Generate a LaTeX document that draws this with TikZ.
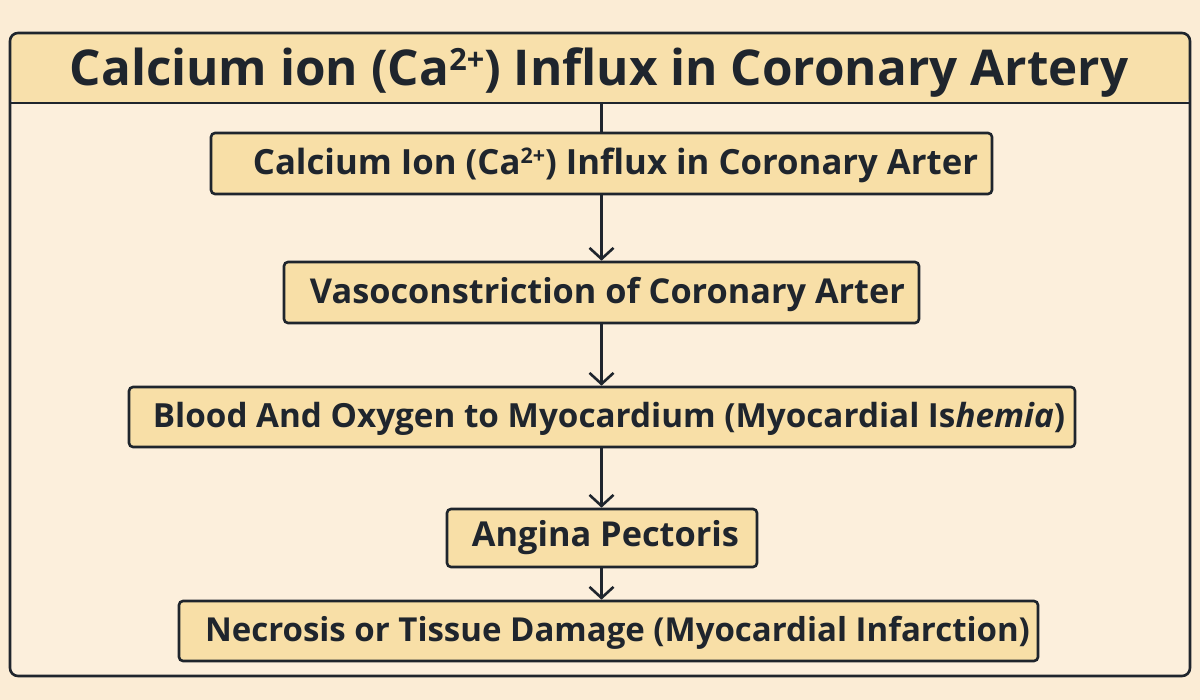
\documentclass[tikz,border=0pt]{standalone}
\usepackage{fontspec}
\setmainfont{Open Sans}
\usetikzlibrary{arrows.meta}
\definecolor{bgc}{HTML}{FBECD5}
\definecolor{framec}{HTML}{FCEFDC}
\definecolor{hdrc}{HTML}{F8E0AB}
\definecolor{boxc}{HTML}{F8DFA7}
\definecolor{inkc}{HTML}{1F252D}
\tikzset{
  stepbox/.style={draw=inkc, line width=2.6pt, fill=boxc, rounded corners=4pt, inner sep=0pt},
  lbl/.style={text=inkc, inner sep=0pt, font=\bfseries, anchor=base},
  flow/.style={draw=inkc, line width=2.4pt, -{Straight Barb[length=11pt,width=24pt,line width=2.6pt]}},
}
\newcommand{\sq}{\raisebox{0.32em}{\scalebox{0.62}{2+}}}
\begin{document}
\begin{tikzpicture}[x=1pt,y=-1pt]
\useasboundingbox (0,0) rectangle (1200,700);
\fill[bgc] (0,0) rectangle (1200,700);
% frame
\fill[framec, rounded corners=8pt] (10,33) rectangle (1190,676);
\fill[hdrc, rounded corners=8pt] (10,103) -- (10,33) -- (1190,33) -- (1190,103) -- cycle;
\draw[inkc, line width=2.4pt] (10,103) -- (1190,103);
\draw[inkc, line width=2.6pt, rounded corners=8pt] (10,33) rectangle (1190,676);
\node[lbl] (title) at (599,86) {\resizebox{1058pt}{!}{Calcium ion (Ca\sq) Influx in Coronary Artery}};
\coordinate (hdr) at (601.5,103);
% boxes
\node[stepbox, minimum width=781pt, minimum height=61pt] (b1) at (601.5,163.5) {};
\node[stepbox, minimum width=635pt, minimum height=61pt] (b2) at (601.5,292.5) {};
\node[stepbox, minimum width=946pt, minimum height=60pt] (b3) at (602,417) {};
\node[stepbox, minimum width=310pt, minimum height=58pt] (b4) at (602,538) {};
\node[stepbox, minimum width=859pt, minimum height=60pt] (b5) at (608.5,631) {};
% labels
\node[lbl] (t1) at (615.5,175) {\resizebox{725pt}{!}{Calcium Ion (Ca\sq) Influx in Coronary Arter}};
\node[lbl] (t2) at (607.5,303.5) {\resizebox{595pt}{!}{Vasoconstriction of Coronary Arter}};
\node[lbl] (t3) at (609,427.5) {\resizebox{912pt}{!}{Blood And Oxygen to Myocardium (Myocardial Is\textit{hemia})}};
\node[lbl] (t4) at (605.5,547) {\resizebox{267pt}{!}{Angina Pectoris}};
\node[lbl] (t5) at (617.5,641.5) {\resizebox{825pt}{!}{Necrosis or Tissue Damage (Myocardial Infarction)}};
% connectors
\draw[inkc, line width=2.4pt] (hdr) -- (hdr |- b1.north);
\draw[flow] (b1.south -| hdr) -- (b2.north -| hdr);
\draw[flow] (b2.south -| hdr) -- (b3.north -| hdr);
\draw[flow] (b3.south -| hdr) -- (b4.north -| hdr);
\draw[flow] (b4.south -| hdr) -- (b5.north -| hdr);
\end{tikzpicture}
\end{document}
